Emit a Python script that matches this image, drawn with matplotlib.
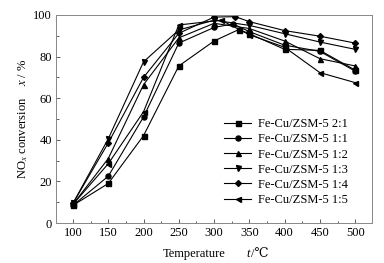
import matplotlib
matplotlib.use("Agg")
import matplotlib.pyplot as plt
from matplotlib.ticker import MultipleLocator

plt.rcParams["font.family"] = ["Liberation Serif", "DejaVu Serif"]
plt.rcParams["mathtext.fontset"] = "stix"

# Fe-Cu/ZSM-5 catalysts, NOx conversion vs temperature
t_21 = [100, 150, 200, 250, 300, 335, 350, 400, 450, 500]
x_21 = [8.5, 19, 42, 75.5, 87.5, 93, 91, 83.5, 83, 73.5]

t_11 = [100, 150, 200, 250, 300, 327, 350, 400, 450, 500]
x_11 = [8.5, 22.5, 51, 86.5, 94, 95.7, 92, 85.5, 82.5, 73]

t_12 = [100, 150, 200, 250, 300, 350, 400, 450, 500]
x_12 = [9, 31, 66.5, 89, 96, 93.5, 87.5, 79, 75.5]

t_13 = [100, 150, 200, 250, 300, 350, 400, 450, 500]
x_13 = [9.5, 40.5, 77.5, 92.8, 97.5, 95, 91, 87, 83.5]

t_14 = [100, 150, 200, 250, 300, 330, 350, 400, 450, 500]
x_14 = [9.5, 38.5, 70, 91.2, 99, 99.2, 96.8, 92.5, 89.8, 86.5]

t_15 = [100, 150, 200, 250, 310, 350, 400, 450, 500]
x_15 = [9, 28.5, 53.5, 95.2, 97.5, 90.5, 84.5, 72.3, 67.5]

series = [
    (t_21, x_21, "s", "Fe-Cu/ZSM-5 2:1"),
    (t_11, x_11, "o", "Fe-Cu/ZSM-5 1:1"),
    (t_12, x_12, "^", "Fe-Cu/ZSM-5 1:2"),
    (t_13, x_13, "v", "Fe-Cu/ZSM-5 1:3"),
    (t_14, x_14, "D", "Fe-Cu/ZSM-5 1:4"),
    (t_15, x_15, "<", "Fe-Cu/ZSM-5 1:5"),
]

fig = plt.figure(figsize=(3.84, 2.63), dpi=100)
ax = fig.add_axes([0.146, 0.152, 0.823, 0.791])

for t, x, m, name in series:
    ms = 3.0 if m == "D" else 3.6
    ax.plot(t, x, color="black", marker=m, markersize=ms, linewidth=0.8, label=name)

ax.set_xlim(76, 524)
ax.set_ylim(0, 100)
ax.xaxis.set_major_locator(MultipleLocator(50))
ax.xaxis.set_minor_locator(MultipleLocator(25))
ax.yaxis.set_major_locator(MultipleLocator(20))
ax.yaxis.set_minor_locator(MultipleLocator(10))
ax.tick_params(which="both", direction="in", top=False, right=False,
               labelsize=9, color="#444444", pad=3)
ax.tick_params(which="major", length=3, width=0.6)
ax.tick_params(which="minor", length=1.8, width=0.6)
for sp in ax.spines.values():
    sp.set_color("#888888")
    sp.set_linewidth(0.7)

# x label built from pieces so the degree-Celsius sign can come from DejaVu
ylab = 0.035
fig.text(163 / 384, ylab, "Temperature", fontsize=9, ha="left", va="center")
fig.text(246 / 384, ylab, "t", fontsize=9, style="italic", ha="left", va="center")
fig.text(251 / 384, ylab, "/\u2103", fontsize=9, ha="left", va="center")
ax.set_ylabel("NO$_x$ conversion    $x$ / %", fontsize=9, labelpad=2)

ax.legend(loc="lower right", bbox_to_anchor=(0.95, 0.04), frameon=False,
          fontsize=9, handlelength=2.2, handletextpad=0.5,
          labelspacing=0.25, borderaxespad=0.3)

fig.savefig("out.png", dpi=100)
